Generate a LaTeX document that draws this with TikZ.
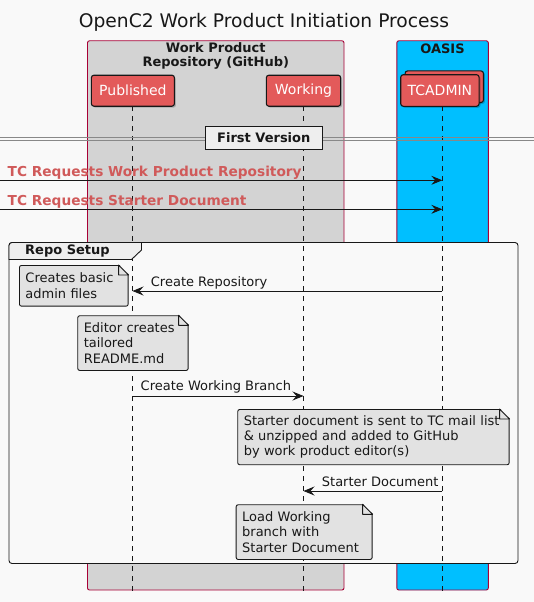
\documentclass[tikz,border=0pt]{standalone}
\usepackage{fontspec}
\setmainfont{DejaVu Sans}
\usetikzlibrary{arrows.meta,shadows}
\definecolor{bgc}{HTML}{F9F9F9}
\definecolor{ink}{HTML}{181818}
\definecolor{boxline}{HTML}{A80036}
\definecolor{repogray}{HTML}{D3D3D3}
\definecolor{oasisblue}{HTML}{00BFFF}
\definecolor{partred}{HTML}{E35A5A}
\definecolor{msgred}{HTML}{D05A5A}
\definecolor{notegray}{HTML}{E2E2E2}
\definecolor{tabgray}{HTML}{EEEEEE}
\definecolor{divline}{HTML}{888888}
\newcommand\notefold[1]{%
  \fill[bgc] ([xshift=-10pt,yshift=1pt]#1.north east) -- ([xshift=1pt,yshift=1pt]#1.north east) -- ([xshift=1pt,yshift=-10pt]#1.north east) -- cycle;
  \draw[ink, line width=0.9pt, line join=round] ([xshift=-10pt]#1.north east) -- ([xshift=-10pt,yshift=-10pt]#1.north east) -- ([yshift=-10pt]#1.north east) -- cycle;
}
\tikzset{
  part/.style={draw=ink, line width=1.1pt, fill=partred, rounded corners=2.5pt, text=white,
    font=\fontsize{14}{16}\selectfont, inner sep=0pt,
    drop shadow={shadow xshift=1.5pt, shadow yshift=-1.5pt, fill=black, opacity=0.2}},
  notebox/.style={draw=ink, line width=0.9pt, fill=notegray, rounded corners=2pt, inner xsep=6pt,
    inner ysep=0pt, align=left, anchor=north west, font=\fontsize{13}{15.3}\selectfont, text=ink},
  msg/.style={draw=ink, line width=0.9pt, -{Stealth[length=11pt,width=9pt,inset=4pt]}},
  lbl/.style={font=\fontsize{13}{15}\selectfont, text=ink, inner sep=0pt, anchor=west},
  redlbl/.style={font=\bfseries\fontsize{13.7}{15}\selectfont, text=msgred, inner sep=0pt, anchor=west},
  life/.style={draw=ink, line width=0.8pt, dash pattern=on 5pt off 5pt},
  boxtitle/.style={font=\bfseries\fontsize{13}{14.5}\selectfont, text=ink, align=center, inner sep=0pt},
}
\begin{document}
\begin{tikzpicture}[x=1pt,y=-1pt]
\fill[bgc] (0,0) rectangle (534,602);
\useasboundingbox (0,0) rectangle (534,602);

% title
\node[font=\fontsize{18.7}{20}\selectfont, text=ink, inner sep=0pt] (title) at (264,22.7) {OpenC2 Work Product Initiation Process};

% boxes
\draw[boxline, line width=0.9pt, fill=repogray, rounded corners=2pt] (87.5,40.8) rectangle (344,590);
\draw[boxline, line width=0.9pt, fill=oasisblue, rounded corners=2pt] (396.8,40.8) rectangle (488.3,590);
\node[boxtitle] (repotitle) at (215.8,56.2) {Work Product\\Repository (GitHub)};
\node[boxtitle] (oasistitle) at (442.5,49.2) {OASIS};

% group fill
\fill[bgc, rounded corners=3pt] (9,242.5) rectangle (518,563.5);

% participants
\node[part, minimum width=83pt, minimum height=31pt] (pub) at (132.9,90.7) {Published};
\node[part, minimum width=74.3pt, minimum height=31pt] (work) at (303.5,90.7) {Working};
\node[part, minimum width=78.3pt, minimum height=31.6pt] (tcback) at (444.3,86.7) {};
\node[part, minimum width=78.3pt, minimum height=31.6pt] (tc) at (439.9,90.5) {TCADMIN};

% lifelines
\coordinate (pubtop) at (132.5,106.4);
\coordinate (worktop) at (303.5,106.4);
\coordinate (tctop) at (442.3,106.4);
\coordinate (bottom) at (0,591);
\draw[life] (pubtop) -- (pubtop |- bottom);
\draw[life] (worktop) -- (worktop |- bottom);
\draw[life] (tctop) -- (tctop |- bottom);

% group frame and tab
\draw[ink, line width=0.9pt, rounded corners=3pt] (9,242.5) rectangle (518,563.5);
\draw[ink, line width=0.9pt, fill=tabgray] (9,259.5) -- (131.5,259.5) -- (141.5,250) -- (141.5,242.5) [rounded corners=3pt] -- (9,242.5) [sharp corners] -- cycle;
\node[font=\bfseries\fontsize{13}{15}\selectfont, text=ink, inner sep=0pt, anchor=west] (grouplbl) at (25,251.2) {Repo Setup};

% divider
\draw[divline, line width=0.8pt] (0,137.6) -- (534,137.6);
\draw[divline, line width=0.8pt] (0,140.4) -- (534,140.4);
\node[draw=ink, line width=0.9pt, fill=tabgray, minimum width=116.8pt, minimum height=23.3pt, inner sep=0pt,
  font=\bfseries\fontsize{13}{15}\selectfont, text=ink] (div) at (263.8,137.8) {First Version};

% incoming messages
\coordinate (in1) at (0,180.3);
\coordinate (in2) at (0,209.3);
\draw[msg] (in1) -- (in1 -| tctop);
\draw[msg] (in2) -- (in2 -| tctop);
\node[redlbl] (l1) at (7.5,172.8) {TC Requests Work Product Repository};
\node[redlbl] (l2) at (7.5,201.8) {TC Requests Starter Document};

% Create Repository
\coordinate (m3) at (442.3,291);
\draw[msg] (m3) -- (m3 -| pubtop);
\node[lbl] (l3) at (150.7,282.9) {Create Repository};

% notes
\node[notebox, minimum width=108.7pt, text width=96.7pt, minimum height=40.7pt] (n1) at (19,265) {Creates basic\\admin files};
\notefold{n1}
\node[notebox, minimum width=110.4pt, text width=98.4pt, minimum height=54.7pt] (n2) at (77.3,315.3) {Editor creates\\tailored\\README.md};
\notefold{n2}

% Create Working Branch
\coordinate (m4) at (132.5,396);
\draw[msg] (m4) -- (m4 -| worktop);
\node[lbl] (l4) at (140.5,386.9) {Create Working Branch};

\node[notebox, minimum width=271.4pt, text width=259.4pt, minimum height=55.3pt] (n3) at (237.3,409) {Starter document is sent to TC mail list\\\& unzipped and added to GitHub\\by work product editor(s)};
\notefold{n3}

% Starter Document
\coordinate (m5) at (442.3,491);
\draw[msg] (m5) -- (m5 -| worktop);
\node[lbl] (l5) at (321.7,481.9) {Starter Document};

\node[notebox, minimum width=136pt, text width=124pt, minimum height=54.7pt] (n4) at (235.7,504.3) {Load Working\\branch with\\Starter Document};
\notefold{n4}
\end{tikzpicture}
\end{document}
